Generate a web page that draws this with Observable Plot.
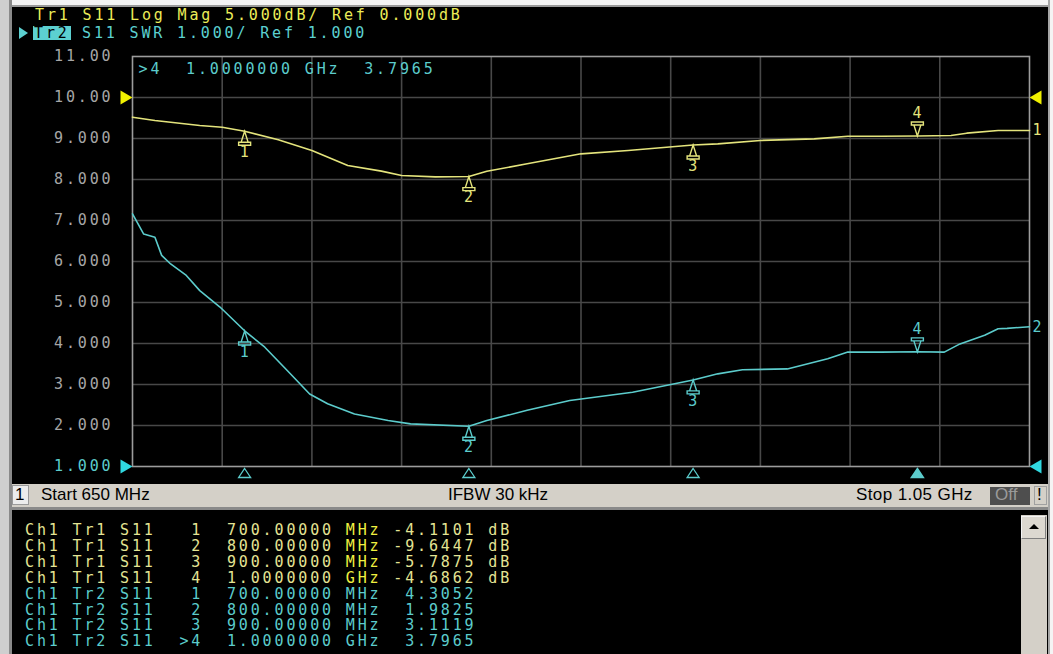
<!DOCTYPE html>
<html><head><meta charset="utf-8">
<script src="https://cdn.jsdelivr.net/npm/d3@7"></script>
<script src="https://cdn.jsdelivr.net/npm/@observablehq/plot@0.6"></script>
<style>
html,body{margin:0;padding:0;width:1053px;height:654px;overflow:hidden;background:#f4f4f4;}
#root{position:relative;width:1053px;height:654px;}
.abs{position:absolute;}
.mono{font-family:"DejaVu Sans Mono",monospace;font-size:15px;letter-spacing:2.85px;white-space:pre;line-height:15px;}
.ui{font-family:"Liberation Sans",Arial,sans-serif;font-size:17px;color:#000;white-space:pre;line-height:22px;}
</style></head>
<body><div id="root">
  <div class="abs" style="left:0;top:0;width:9px;height:654px;background:#cfcfcf;"></div>
  <div class="abs" style="left:9px;top:0;width:3px;height:654px;background:#8a8a8a;"></div>
  <div class="abs" style="left:12px;top:5px;width:1036px;height:2px;background:#9a9a9a;"></div>
  <div class="abs" style="left:1048px;top:0;width:2px;height:654px;background:#a6a6a6;"></div>
  <div class="abs" style="left:12px;top:7px;width:1036px;height:477px;background:#000;"></div>
  <div id="chart" class="abs" style="left:12px;top:7px;"></div>
  <div id="hdr1" class="abs mono" style="left:35px;top:8px;color:#ecec58;"></div>
  <div class="abs" style="left:19px;top:27px;width:0;height:0;border-top:6.5px solid transparent;border-bottom:6.5px solid transparent;border-left:9px solid #5cd0d0;"></div>
  <div id="hdr2a" class="abs mono" style="left:33px;top:26px;color:#000;background:#5cd0d0;padding:0 1px;height:14px;"></div>
  <div id="hdr2b" class="abs mono" style="left:82px;top:26px;color:#5cd0d0;"></div>
  <div class="abs" style="left:12px;top:484px;width:1036px;height:23px;background:#d4d0c8;"></div>
  <div class="abs" style="left:12px;top:485px;width:17px;height:20px;background:#ececec;border:1px solid #9a9a9a;box-sizing:border-box;"></div>
  <div class="abs ui" style="left:15px;top:484px;">1</div>
  <div id="sStart" class="abs ui" style="left:41px;top:484px;"></div>
  <div id="sIfbw" class="abs ui" style="left:448px;top:484px;"></div>
  <div id="sStop" class="abs ui" style="left:856px;top:484px;letter-spacing:0.4px;"></div>
  <div class="abs" style="left:990px;top:487px;width:40px;height:18px;background:#4e4e4e;"></div>
  <div class="abs ui" style="left:995px;top:484px;color:#9a9a9a;">Off</div>
  <div class="abs" style="left:1034px;top:486px;width:13px;height:19px;border:1px solid #a0a0a0;box-sizing:border-box;"></div>
  <div class="abs ui" style="left:1037px;top:484px;">!</div>
  <div class="abs" style="left:12px;top:507px;width:1036px;height:3px;background:#8a8a8a;"></div>
  <div class="abs" style="left:12px;top:510px;width:1036px;height:144px;background:#000;"></div>
  <div class="abs" style="left:1021px;top:515px;width:26px;height:139px;background:#d4d0c8;"></div>
  <div class="abs" style="left:1021px;top:516px;width:25px;height:23px;background:#dcd8d0;border:1px solid #f4f4f4;border-right-color:#808080;border-bottom-color:#808080;box-sizing:border-box;"></div>
  <div class="abs" style="left:1029px;top:524px;width:0;height:0;border-left:5px solid transparent;border-right:5px solid transparent;border-bottom:5px solid #000;"></div>
  <div id="table" class="abs"></div>
</div>
<script>
// ---- data ----
const startMHz = 650, stopMHz = 1050;
const freqGrid = [690, 730, 770, 810, 850, 890, 930, 970, 1010];
const yTicks = [11, 10, 9, 8, 7, 6, 5, 4, 3, 2, 1];
const yTickLabels = ["11.00", "10.00", "9.000", "8.000", "7.000", "6.000", "5.000", "4.000", "3.000", "2.000", "1.000"];

// Tr1: S11 Log Mag (dB), 5 dB/div, ref 0 dB at division line 10
const tr1Ref = 10, tr1DbPerDiv = 5;
const freqTr1 = [650, 660, 680, 690, 700, 715, 730, 746, 761, 770, 785, 800, 808, 826, 850, 871, 900, 911, 930, 954, 969, 984, 1000, 1015, 1022, 1036, 1050];
const tr1dB = [-2.40, -2.80, -3.41, -3.62, -4.11, -5.16, -6.46, -8.29, -8.98, -9.51, -9.68, -9.64, -8.99, -8.09, -6.87, -6.46, -5.79, -5.65, -5.24, -5.04, -4.72, -4.72, -4.69, -4.63, -4.35, -4.02, -4.02];

// Tr2: S11 SWR, 1/div, ref 1.000 at bottom
const freqTr2 = [650, 655, 660, 663, 667, 674, 680, 689, 700, 709, 719, 729, 737, 749, 764, 774, 800, 808, 826, 845, 873, 900, 911, 922, 942, 960, 969, 984, 1000, 1012, 1019, 1030, 1036, 1040, 1050];
const tr2SWR = [7.16, 6.67, 6.59, 6.15, 5.94, 5.66, 5.29, 4.89, 4.31, 3.91, 3.34, 2.77, 2.53, 2.28, 2.12, 2.04, 1.98, 2.12, 2.37, 2.61, 2.81, 3.11, 3.26, 3.36, 3.38, 3.63, 3.79, 3.79, 3.80, 3.79, 3.99, 4.20, 4.36, 4.37, 4.41];

// markers
const markerFreq = [700, 800, 900, 1000];
const markerFreqLabels = ["700.00000", "800.00000", "900.00000", "1.0000000"];
const markerUnits = ["MHz", "MHz", "MHz", "GHz"];
const markerTr1 = [-4.1101, -9.6447, -5.7875, -4.6862];
const markerTr2 = [4.3052, 1.9825, 3.1119, 3.7965];
const activeMarker = 4;

const header1 = "Tr1 S11 Log Mag 5.000dB/ Ref 0.000dB";
const header2Trace = "Tr2";
const header2 = "S11 SWR 1.000/ Ref 1.000";
const statusStart = "Start 650 MHz", statusIfbw = "IFBW 30 kHz", statusStop = "Stop 1.05 GHz";

// ---- colours ----
const YEL = "#e4e47c", CYA = "#5ccccc", GRID = "#484848", FRAME = "#9c9c9c", LBL = "#a6a6a6";

const toDisp = db => tr1Ref + db / tr1DbPerDiv;
const tr1 = freqTr1.map((f, i) => ({f, v: toDisp(tr1dB[i])}));
const tr2 = freqTr2.map((f, i) => ({f, v: tr2SWR[i]}));
const mk1 = markerFreq.map((f, i) => ({f, v: toDisp(markerTr1[i]), n: String(i + 1), act: i + 1 === activeMarker}));
const mk2 = markerFreq.map((f, i) => ({f, v: markerTr2[i], n: String(i + 1), act: i + 1 === activeMarker}));
const yLab = yTicks.map((v, i) => ({v, t: yTickLabels[i]}));

// custom glyphs (pixel offsets from the anchor)
const mUp = {draw(c) { c.moveTo(0, 0); c.lineTo(-3.5, 11); c.lineTo(3.5, 11); c.closePath(); c.rect(-6, 11, 12, 3); }};
const mDown = {draw(c) { c.moveTo(0, 0); c.lineTo(-3.5, -11); c.lineTo(3.5, -11); c.closePath(); c.rect(-6, -14, 12, 3); }};
const refRight = {draw(c) { c.moveTo(-12, -7); c.lineTo(0, 0); c.lineTo(-12, 7); c.closePath(); }};
const refLeft = {draw(c) { c.moveTo(12, -7); c.lineTo(0, 0); c.lineTo(12, 7); c.closePath(); }};
const stimTri = {draw(c) { c.moveTo(0, 2); c.lineTo(6, 11); c.lineTo(-6, 11); c.closePath(); }};

const readout = [">" + activeMarker + "  " + markerFreqLabels[activeMarker - 1] + " " + markerUnits[activeMarker - 1] + "  " + markerTr2[activeMarker - 1].toFixed(4)];

const chart = Plot.plot({
  width: 1036, height: 477,
  marginLeft: 120, marginRight: 19, marginTop: 49, marginBottom: 18,
  x: {domain: [startMHz, stopMHz], axis: null},
  y: {domain: [1, 11], axis: null},
  style: {background: "#000", fontFamily: "DejaVu Sans Mono, monospace", fontSize: "15px", letterSpacing: "2.85px", whiteSpace: "pre", overflow: "visible"},
  marks: [
    Plot.ruleX(freqGrid, {stroke: GRID, strokeWidth: 1.6}),
    Plot.ruleY(yTicks.filter(v => v !== 1 && v !== 11), {stroke: GRID, strokeWidth: 1.6}),
    Plot.frame({stroke: FRAME, strokeWidth: 1.6}),
    Plot.text(yLab.filter(d => d.v !== 1), {y: "v", text: "t", frameAnchor: "left", textAnchor: "end", dx: -19, fill: LBL}),
    Plot.text(yLab.filter(d => d.v === 1), {y: "v", text: "t", frameAnchor: "left", textAnchor: "end", dx: -19, fill: CYA}),
    Plot.dot([10], {y: d => d, frameAnchor: "left", symbol: refRight, fill: "#f0f000", stroke: "none"}),
    Plot.dot([10], {y: d => d, frameAnchor: "right", symbol: refLeft, fill: "#f0f000", stroke: "none"}),
    Plot.dot([1], {y: d => d, frameAnchor: "left", symbol: refRight, fill: "#30d8e0", stroke: "none"}),
    Plot.dot([1], {y: d => d, frameAnchor: "right", symbol: refLeft, fill: "#30d8e0", stroke: "none"}),
    Plot.text(readout, {frameAnchor: "top-left", textAnchor: "start", lineAnchor: "middle", dx: 6, dy: 13, fill: CYA}),
    Plot.line(tr1, {x: "f", y: "v", stroke: YEL, strokeWidth: 1.6}),
    Plot.line(tr2, {x: "f", y: "v", stroke: CYA, strokeWidth: 1.6}),
    Plot.dot(mk1.filter(d => !d.act), {x: "f", y: "v", symbol: mUp, stroke: YEL, fill: "none", strokeWidth: 1.4}),
    Plot.text(mk1.filter(d => !d.act), {x: "f", y: "v", text: "n", dy: 21, dx: 1, fill: YEL}),
    Plot.dot(mk1.filter(d => d.act), {x: "f", y: "v", symbol: mDown, stroke: YEL, fill: "none", strokeWidth: 1.4}),
    Plot.text(mk1.filter(d => d.act), {x: "f", y: "v", text: "n", dy: -23, dx: 1, fill: YEL}),
    Plot.dot(mk2.filter(d => !d.act), {x: "f", y: "v", symbol: mUp, stroke: CYA, fill: "none", strokeWidth: 1.4}),
    Plot.text(mk2.filter(d => !d.act), {x: "f", y: "v", text: "n", dy: 21, dx: 1, fill: CYA}),
    Plot.dot(mk2.filter(d => d.act), {x: "f", y: "v", symbol: mDown, stroke: CYA, fill: "none", strokeWidth: 1.4}),
    Plot.text(mk2.filter(d => d.act), {x: "f", y: "v", text: "n", dy: -23, dx: 1, fill: CYA}),
    Plot.text([tr1[tr1.length - 1]], {y: "v", frameAnchor: "right", text: () => "1", textAnchor: "start", dx: 3, fill: YEL}),
    Plot.text([tr2[tr2.length - 1]], {y: "v", frameAnchor: "right", text: () => "2", textAnchor: "start", dx: 3, fill: CYA}),
    Plot.dot(mk2.filter(d => !d.act), {x: "f", frameAnchor: "bottom", symbol: stimTri, stroke: CYA, fill: "none", strokeWidth: 1.3}),
    Plot.dot(mk2.filter(d => d.act), {x: "f", frameAnchor: "bottom", symbol: stimTri, stroke: CYA, fill: CYA})
  ]
});
document.getElementById("chart").appendChild(chart);

document.getElementById("hdr1").textContent = header1;
document.getElementById("hdr2a").textContent = header2Trace;
document.getElementById("hdr2b").textContent = header2;
document.getElementById("sStart").textContent = statusStart;
document.getElementById("sIfbw").textContent = statusIfbw;
document.getElementById("sStop").textContent = statusStop;

// marker table
const tbl = document.getElementById("table");
const pad = (s, n) => (" ".repeat(n) + s).slice(-n);
const rows = [];
markerFreq.forEach((f, i) => rows.push({tr: "Tr1", i, val: markerTr1[i].toFixed(4), unit: " dB", col: "#e4e494", ucol: "#f0f040"}));
markerFreq.forEach((f, i) => rows.push({tr: "Tr2", i, val: markerTr2[i].toFixed(4), unit: "", col: CYA, ucol: CYA}));
rows.forEach((r, k) => {
  const d = document.createElement("div");
  d.className = "abs mono";
  d.style.left = "25px";
  d.style.top = (523 + k * 15.9) + "px";
  d.style.color = r.col;
  const num = (r.i + 1 === activeMarker && r.tr === "Tr2") ? ">" + (r.i + 1) : " " + (r.i + 1);
  const pre = "Ch1 " + r.tr + " S11  " + num + "  " + markerFreqLabels[r.i] + " ";
  const post = " " + pad(r.val, 7) + r.unit;
  d.appendChild(document.createTextNode(pre));
  const u = document.createElement("span"); u.style.color = r.ucol; u.textContent = markerUnits[r.i];
  d.appendChild(u);
  d.appendChild(document.createTextNode(post));
  tbl.appendChild(d);
});
</script>
</body></html>
